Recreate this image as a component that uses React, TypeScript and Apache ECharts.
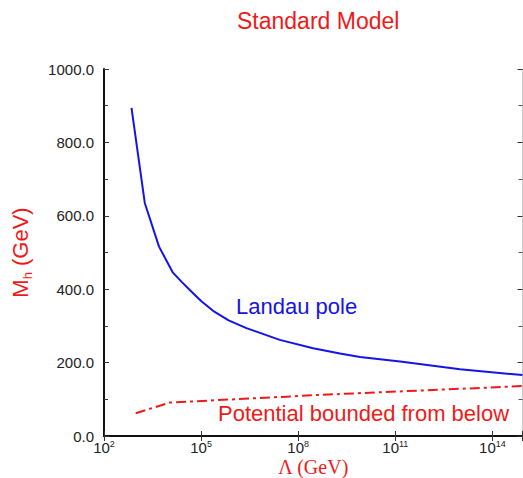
import React, { useEffect, useRef } from "react";
import * as echarts from "echarts";

const chartTitle = "Standard Model";
// x values are log10(Λ / GeV)
const landauLog10Lambda = [2.85, 3.26, 3.7, 4.13, 4.4, 4.65, 5.0, 5.37, 5.85, 6.4, 7.43, 8.46, 9.29, 9.91, 11.15, 13.0, 14.93];
const landauMh = [894, 635, 516, 445, 420, 398, 368, 341, 315, 294, 262, 239, 225, 215, 203, 182, 166];
const stabilityLog10Lambda = [2.98, 4.03, 8.67, 14.93];
const stabilityMh = [62, 91, 112, 136];
const xMinExp = 2;
const xMaxExp = 14.93;
const xTickStep = 3;
const yMin = 0;
const yMax = 1000;
const yTickStep = 200;
const landauLabel = "Landau pole";
const stabilityLabel = "Potential bounded from below";

const RED = "#ee1a1a";
const BLUE = "#1414e6";
const SANS = "'Liberation Sans', Arial, Helvetica, sans-serif";
const SERIF = "'Liberation Serif', 'Times New Roman', serif";

export default function App() {
  const ref = useRef<HTMLDivElement>(null);
  useEffect(() => {
    if (!ref.current) return;
    const chart = echarts.init(ref.current, null, { renderer: "svg" });
    const landau = landauLog10Lambda.map((x, i) => [x, landauMh[i]]);
    const stability = stabilityLog10Lambda.map((x, i) => [x, stabilityMh[i]]);
    const xLabel = (v: number) => {
      const r = Math.round(v);
      if (Math.abs(v - r) > 1e-6 || (r - xMinExp) % xTickStep !== 0) return "";
      return `{b|10}{s|${r}}`;
    };
    const tickCommon = {
      axisTick: { show: true, inside: true, length: 5, lineStyle: { color: "#333", width: 1 } },
      minorTick: { show: false },
      splitLine: { show: false },
    };
    chart.setOption({
      animation: false,
      backgroundColor: "#ffffff",
      title: {
        text: chartTitle,
        left: 232,
        top: 4,
        textStyle: { color: RED, fontSize: 23, fontWeight: "normal", fontFamily: SANS },
      },
      grid: { left: 104, top: 69, width: 418.5, height: 367, containLabel: false, outerBoundsMode: "none" },
      xAxis: [
        {
          type: "value",
          position: "bottom",
          min: xMinExp,
          max: xMaxExp,
          interval: xTickStep,
          ...tickCommon,
          axisLine: { show: true, lineStyle: { color: "#111", width: 2 } },
          axisLabel: {
            show: true,
            margin: 3,
            formatter: xLabel,
            rich: {
              b: { fontSize: 15, fontFamily: SANS, color: "#222", verticalAlign: "bottom", lineHeight: 16 },
              s: { fontSize: 9, fontFamily: SANS, color: "#222", verticalAlign: "top", lineHeight: 16 },
            },
          },
          name: "Λ (GeV)",
          nameLocation: "middle",
          nameGap: 22,
          nameMoveOverlap: false,
          nameTextStyle: { color: RED, fontSize: 20, lineHeight: 18, fontFamily: SERIF },
        },
        {
          type: "value",
          position: "top",
          min: xMinExp,
          max: xMaxExp,
          interval: xTickStep,
          ...tickCommon,
          axisLine: { show: true, lineStyle: { color: "#111", width: 2 } },
          axisLabel: { show: false },
        },
      ],
      yAxis: [
        {
          type: "value",
          position: "left",
          min: yMin,
          max: yMax,
          interval: yTickStep,
          ...tickCommon,
          minorTick: { show: true, splitNumber: 2, length: 4, lineStyle: { color: "#333", width: 1 } },
          axisLine: { show: true, lineStyle: { color: "#111", width: 2 } },
          axisLabel: {
            show: true,
            margin: 10,
            fontSize: 15,
            fontFamily: SANS,
            color: "#222",
            formatter: (v: number) => v.toFixed(1),
          },
          name: "M{sub|h} (GeV)",
          nameLocation: "middle",
          nameRotate: 90,
          nameGap: 70,
          nameMoveOverlap: false,
          nameTextStyle: {
            color: RED,
            fontSize: 22,
            fontFamily: SANS,
            lineHeight: 28,
            rich: {
              sub: { fontSize: 13, color: RED, fontFamily: SANS, verticalAlign: "bottom", lineHeight: 28 },
            },
          },
        },
        {
          type: "value",
          position: "right",
          min: yMin,
          max: yMax,
          interval: yTickStep,
          ...tickCommon,
          minorTick: { show: true, splitNumber: 2, length: 4, lineStyle: { color: "#555", width: 1 } },
          axisLine: { show: true, lineStyle: { color: "#c8c8c8", width: 1 } },
          axisLabel: { show: false },
        },
      ],
      series: [
        {
          type: "line",
          name: landauLabel,
          xAxisIndex: 0,
          yAxisIndex: 0,
          data: landau,
          symbol: "none",
          smooth: false,
          lineStyle: { color: BLUE, width: 2 },
        },
        {
          type: "line",
          name: stabilityLabel,
          xAxisIndex: 0,
          yAxisIndex: 0,
          data: stability,
          symbol: "none",
          smooth: false,
          lineStyle: { color: RED, width: 2, type: [10, 4, 3, 4] },
        },
      ],
      graphic: [
        {
          type: "text",
          left: 236,
          top: 295,
          style: { text: landauLabel, fill: BLUE, fontSize: 22, fontFamily: SANS },
        },
        {
          type: "text",
          left: 218,
          top: 402,
          style: { text: stabilityLabel, fill: RED, fontSize: 22, fontFamily: SANS },
        },
      ],
    });
    return () => chart.dispose();
  }, []);
  return (
    <div
      ref={ref}
      style={{ position: "fixed", left: 0, top: 0, width: 523, height: 478, background: "#fff" }}
    />
  );
}
